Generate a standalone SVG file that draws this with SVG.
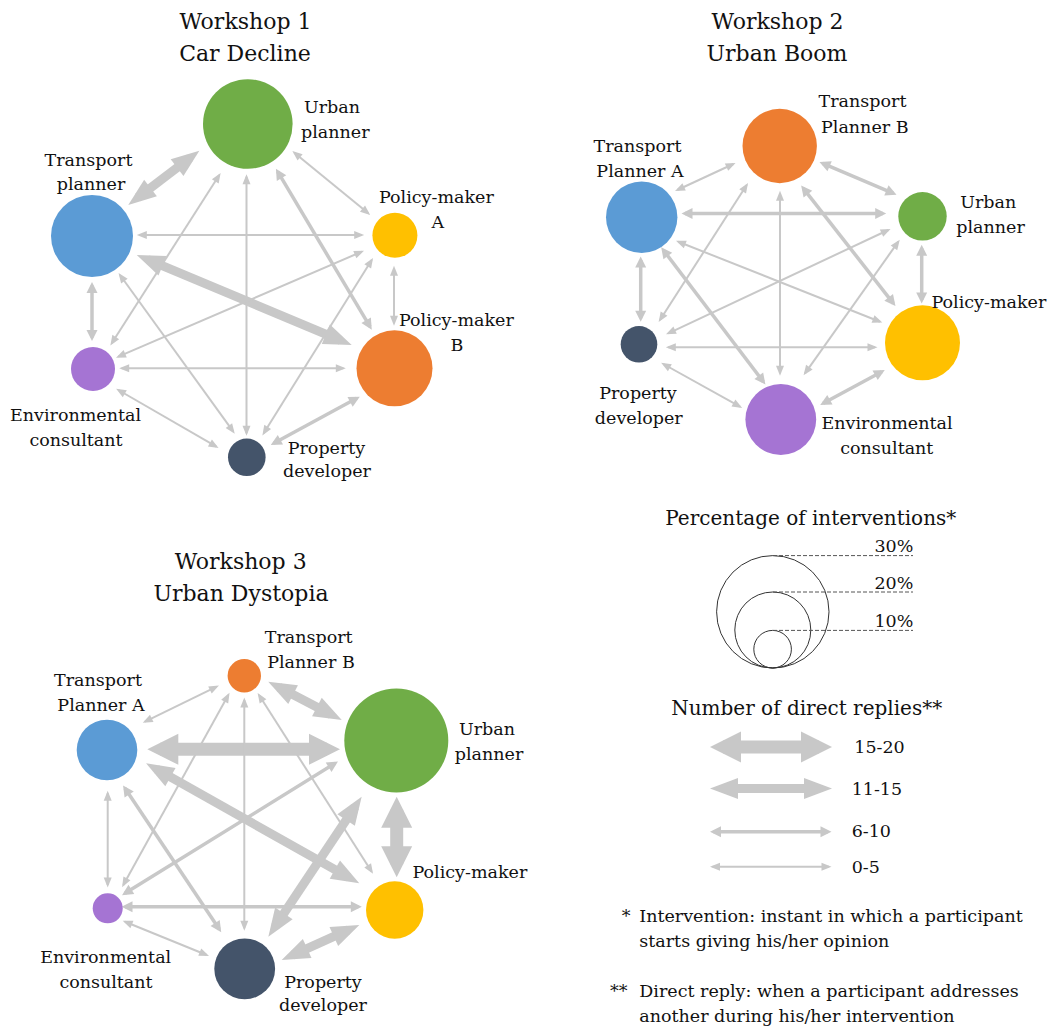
<svg xmlns="http://www.w3.org/2000/svg" width="1059" height="1029" viewBox="0 0 1059 1029">
  <defs>
    <style>
      text { font-family: "DejaVu Serif", "Liberation Serif", serif; fill: #111; }
      .title { font-size: 22px; text-anchor: middle; }
      .lbl { font-size: 17.5px; }
      .mid { text-anchor: middle; }
      .end { text-anchor: end; }
      .head { font-size: 20px; text-anchor: middle; }
      .e0, .e1, .e2, .e3 { stroke: #c8c8c8; fill: none; }
      .e0 { stroke-width: 2; marker-start: url(#h0); marker-end: url(#h0); }
      .e1 { stroke-width: 3.5; marker-start: url(#h1); marker-end: url(#h1); }
      .e2 { stroke-width: 9; marker-start: url(#h2); marker-end: url(#h2); }
      .e3 { stroke-width: 13; marker-start: url(#h3); marker-end: url(#h3); }
      .ring { fill: none; stroke: #333; stroke-width: 1; }
      .tick { stroke: #555; stroke-width: 1; stroke-dasharray: 4 2; }
      .tp { fill: #5b9bd5; }
      .up { fill: #70ad47; }
      .pm { fill: #ffc000; }
      .or { fill: #ed7d31; }
      .ec { fill: #a574d3; }
      .pd { fill: #44546a; }
    </style>
    <!-- double-headed arrow tips, one per reply-count band -->
    <marker id="h0" markerUnits="userSpaceOnUse" orient="auto-start-reverse" markerWidth="10" markerHeight="8" refX="7.5" refY="4" overflow="visible">
      <path d="M0,0 L10,4 L0,8 z" fill="#c8c8c8"/>
    </marker>
    <marker id="h1" markerUnits="userSpaceOnUse" orient="auto-start-reverse" markerWidth="11" markerHeight="11" refX="7.5" refY="5.5" overflow="visible">
      <path d="M0,0 L11,5.5 L0,11 z" fill="#c8c8c8"/>
    </marker>
    <marker id="h2" markerUnits="userSpaceOnUse" orient="auto-start-reverse" markerWidth="28" markerHeight="21" refX="16" refY="10.5" overflow="visible">
      <path d="M0,0 L28,10.5 L0,21 z" fill="#c8c8c8"/>
    </marker>
    <marker id="h3" markerUnits="userSpaceOnUse" orient="auto-start-reverse" markerWidth="31" markerHeight="31" refX="18" refY="15.5" overflow="visible">
      <path d="M0,0 L31,15.5 L0,31 z" fill="#c8c8c8"/>
    </marker>
  </defs>

  <rect width="1059" height="1029" fill="#fff"/>

  <!-- ===== Workshop 1 ===== -->
  <g id="w1-title">
    <text class="title" x="245.5" y="29.3">Workshop 1</text>
    <text class="title" x="245" y="61">Car Decline</text>
  </g>
  <g id="w1-connectors">
    <line class="e2" x1="137.8" y1="197.7" x2="189.8" y2="158"/>
    <line class="e0" x1="294.3" y1="152.7" x2="368.3" y2="213.3"/>
    <line class="e1" x1="277.7" y1="171.7" x2="370" y2="326.7"/>
    <line class="e0" x1="219.3" y1="175" x2="111.7" y2="343.3"/>
    <line class="e0" x1="246.5" y1="176.7" x2="246.5" y2="433.3"/>
    <line class="e0" x1="139.3" y1="235" x2="361.7" y2="235"/>
    <line class="e2" x1="147.8" y1="259.6" x2="340.6" y2="340.4"/>
    <line class="e1" x1="92" y1="285.5" x2="92" y2="337.5"/>
    <line class="e0" x1="120" y1="275" x2="233.3" y2="431.7"/>
    <line class="e0" x1="394" y1="268.3" x2="394" y2="323.3"/>
    <line class="e0" x1="361.7" y1="251.7" x2="118.3" y2="356.7"/>
    <line class="e0" x1="371.7" y1="260" x2="263.7" y2="433.3"/>
    <line class="e0" x1="121.7" y1="368.3" x2="343.3" y2="368.3"/>
    <line class="e1" x1="356.7" y1="398.3" x2="273.8" y2="443.3"/>
    <line class="e0" x1="118.3" y1="390" x2="216.4" y2="446.7"/>
  </g>
  <g id="w1-urban-planner">
    <circle class="up" cx="247.8" cy="124" r="44.8"/>
    <text class="lbl" x="304" y="113.3">Urban</text>
    <text class="lbl" x="301" y="137.7">planner</text>
  </g>
  <g id="w1-transport-planner">
    <circle class="tp" cx="92" cy="236" r="41"/>
    <text class="lbl mid" x="88.5" y="165.7">Transport</text>
    <text class="lbl mid" x="91" y="190">planner</text>
  </g>
  <g id="w1-policy-maker-a">
    <circle class="pm" cx="394.9" cy="235.3" r="22.5"/>
    <text class="lbl" x="379" y="202.7">Policy-maker</text>
    <text class="lbl mid" x="437.8" y="228.3">A</text>
  </g>
  <g id="w1-policy-maker-b">
    <circle class="or" cx="394.5" cy="368.3" r="38"/>
    <text class="lbl" x="399" y="325.7">Policy-maker</text>
    <text class="lbl mid" x="457" y="350.7">B</text>
  </g>
  <g id="w1-environmental-consultant">
    <circle class="ec" cx="93" cy="369" r="22"/>
    <text class="lbl mid" x="75.5" y="420.7">Environmental</text>
    <text class="lbl mid" x="76" y="445.7">consultant</text>
  </g>
  <g id="w1-property-developer">
    <circle class="pd" cx="246.8" cy="457.3" r="18.8"/>
    <text class="lbl mid" x="326.5" y="454">Property</text>
    <text class="lbl mid" x="327" y="477.3">developer</text>
  </g>

  <!-- ===== Workshop 2 ===== -->
  <g id="w2-title">
    <text class="title" x="777.6" y="29.3">Workshop 2</text>
    <text class="title" x="777" y="61">Urban Boom</text>
  </g>
  <g id="w2-connectors">
    <line class="e0" x1="677.3" y1="190" x2="733.3" y2="164"/>
    <line class="e1" x1="822.7" y1="163.3" x2="893.3" y2="193.3"/>
    <line class="e1" x1="685" y1="213.5" x2="882.7" y2="213.5"/>
    <line class="e0" x1="780" y1="193.3" x2="780" y2="373.3"/>
    <line class="e0" x1="746.7" y1="185" x2="660" y2="320"/>
    <line class="e1" x1="803.3" y1="188.3" x2="893.3" y2="303.3"/>
    <line class="e0" x1="678.3" y1="241.7" x2="880" y2="321.7"/>
    <line class="e1" x1="663.3" y1="250" x2="763.3" y2="381.7"/>
    <line class="e1" x1="640.7" y1="260" x2="640.7" y2="318.3"/>
    <line class="e0" x1="888.3" y1="230" x2="668.3" y2="333.3"/>
    <line class="e0" x1="898.3" y1="241.7" x2="805" y2="373.3"/>
    <line class="e1" x1="921.7" y1="248.3" x2="921.7" y2="300"/>
    <line class="e0" x1="668.3" y1="347.3" x2="875" y2="347.3"/>
    <line class="e0" x1="663.3" y1="364" x2="740" y2="406.7"/>
    <line class="e1" x1="881.7" y1="371.7" x2="823.3" y2="403.3"/>
  </g>
  <g id="w2-transport-planner-b">
    <circle class="or" cx="779.7" cy="146" r="37.2"/>
    <text class="lbl mid" x="862.5" y="107.3">Transport</text>
    <text class="lbl mid" x="864.8" y="132.7">Planner B</text>
  </g>
  <g id="w2-transport-planner-a">
    <circle class="tp" cx="641.7" cy="217.2" r="35.7"/>
    <text class="lbl mid" x="637.5" y="151.7">Transport</text>
    <text class="lbl mid" x="640" y="176.7">Planner A</text>
  </g>
  <g id="w2-urban-planner">
    <circle class="up" cx="922.5" cy="216.3" r="24.2"/>
    <text class="lbl mid" x="988.2" y="208.3">Urban</text>
    <text class="lbl mid" x="990.5" y="232.7">planner</text>
  </g>
  <g id="w2-policy-maker">
    <circle class="pm" cx="922.5" cy="342.8" r="37.5"/>
    <text class="lbl" x="931.5" y="307.7">Policy-maker</text>
  </g>
  <g id="w2-environmental-consultant">
    <circle class="ec" cx="780.8" cy="419.5" r="35.4"/>
    <text class="lbl mid" x="887" y="429.3">Environmental</text>
    <text class="lbl mid" x="886.8" y="454">consultant</text>
  </g>
  <g id="w2-property-developer">
    <circle class="pd" cx="639" cy="344.3" r="18.3"/>
    <text class="lbl mid" x="638" y="399.3">Property</text>
    <text class="lbl mid" x="638.8" y="424">developer</text>
  </g>

  <!-- ===== Workshop 3 ===== -->
  <g id="w3-title">
    <text class="title" x="240.7" y="569">Workshop 3</text>
    <text class="title" x="241" y="600.7">Urban Dystopia</text>
  </g>
  <g id="w3-connectors">
    <line class="e0" x1="145" y1="721.7" x2="216.7" y2="686.7"/>
    <line class="e2" x1="278.9" y1="687.3" x2="331.1" y2="714.4"/>
    <line class="e3" x1="160.3" y1="749.3" x2="327" y2="749.3"/>
    <line class="e0" x1="228.3" y1="695" x2="123.3" y2="885"/>
    <line class="e0" x1="244.3" y1="700" x2="244.3" y2="928.3"/>
    <line class="e0" x1="259" y1="695" x2="371.7" y2="871.7"/>
    <line class="e0" x1="107.7" y1="793.3" x2="107.7" y2="885"/>
    <line class="e1" x1="125" y1="788.3" x2="219.3" y2="929.3"/>
    <line class="e2" x1="156.5" y1="769.2" x2="348.8" y2="877.4"/>
    <line class="e1" x1="335" y1="763.3" x2="125" y2="893.3"/>
    <line class="e2" x1="355" y1="806.7" x2="275" y2="926.7"/>
    <line class="e3" x1="396.7" y1="809.7" x2="396.7" y2="864.3"/>
    <line class="e1" x1="125" y1="906.7" x2="358.3" y2="906.7"/>
    <line class="e0" x1="125" y1="921.7" x2="206.7" y2="955"/>
    <line class="e2" x1="348.4" y1="929.9" x2="292.6" y2="955.1"/>
  </g>
  <g id="w3-transport-planner-b">
    <circle class="or" cx="244.3" cy="675.7" r="16.7"/>
    <text class="lbl mid" x="308.7" y="643.3">Transport</text>
    <text class="lbl mid" x="311" y="668.3">Planner B</text>
  </g>
  <g id="w3-transport-planner-a">
    <circle class="tp" cx="107" cy="750" r="30.3"/>
    <text class="lbl mid" x="98" y="686">Transport</text>
    <text class="lbl mid" x="101" y="711">Planner A</text>
  </g>
  <g id="w3-urban-planner">
    <circle class="up" cx="396.3" cy="740.5" r="52"/>
    <text class="lbl mid" x="487" y="735">Urban</text>
    <text class="lbl mid" x="489" y="760">planner</text>
  </g>
  <g id="w3-policy-maker">
    <circle class="pm" cx="394.7" cy="910" r="28.7"/>
    <text class="lbl" x="412.5" y="878.3">Policy-maker</text>
  </g>
  <g id="w3-environmental-consultant">
    <circle class="ec" cx="107.7" cy="908.3" r="15"/>
    <text class="lbl mid" x="105.7" y="962.7">Environmental</text>
    <text class="lbl mid" x="106" y="987.7">consultant</text>
  </g>
  <g id="w3-property-developer">
    <circle class="pd" cx="244.7" cy="968.8" r="30.4"/>
    <text class="lbl mid" x="323" y="988.3">Property</text>
    <text class="lbl mid" x="323" y="1011">developer</text>
  </g>

  <!-- ===== Legend: circle size scale ===== -->
  <g id="legend-size">
    <text class="head" x="810.8" y="525">Percentage of interventions*</text>
    <circle class="ring" cx="772.8" cy="611.8" r="56.2"/>
    <circle class="ring" cx="772.8" cy="630" r="38"/>
    <circle class="ring" cx="772.6" cy="649.2" r="18.8"/>
    <path class="tick" d="M773,555.6 H913 M773,592 H913 M773,630.4 H913"/>
    <text class="lbl end" x="913.3" y="551.7">30%</text>
    <text class="lbl end" x="913.3" y="589.3">20%</text>
    <text class="lbl end" x="913.3" y="626.7">10%</text>
  </g>

  <!-- ===== Legend: arrow width scale ===== -->
  <g id="legend-replies">
    <text class="head" x="806.7" y="715">Number of direct replies**</text>
    <line class="e3" x1="723" y1="747" x2="819" y2="747"/>
    <line class="e2" x1="722" y1="788.5" x2="820" y2="788.5"/>
    <line class="e1" x1="713.5" y1="831.7" x2="828" y2="831.7"/>
    <line class="e0" x1="712.5" y1="866.7" x2="829" y2="866.7"/>
    <text class="lbl" x="854.3" y="752.7">15-20</text>
    <text class="lbl" x="851.7" y="795">11-15</text>
    <text class="lbl" x="851.7" y="836.7">6-10</text>
    <text class="lbl" x="851.7" y="873.3">0-5</text>
  </g>

  <!-- ===== Footnotes ===== -->
  <g id="footnotes">
    <text class="lbl" x="621.7" y="922">*</text>
    <text class="lbl" x="639.3" y="922">Intervention: instant in which a participant</text>
    <text class="lbl" x="639.3" y="946.7">starts giving his/her opinion</text>
    <text class="lbl" x="610" y="997.3">**</text>
    <text class="lbl" x="639.3" y="997.3">Direct reply: when a participant addresses</text>
    <text class="lbl" x="639.3" y="1021.7">another during his/her intervention</text>
  </g>
</svg>
